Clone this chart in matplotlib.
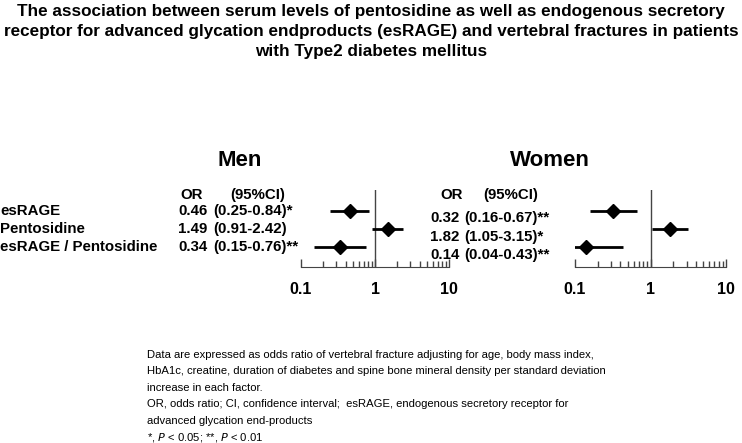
import matplotlib
matplotlib.use("Agg")
import matplotlib.pyplot as plt
from matplotlib.ticker import LogLocator, NullFormatter

W, H = 742, 443
plt.rcParams["font.family"] = ["Liberation Sans", "DejaVu Sans"]

TITLE = ("The association between serum levels of pentosidine as well as endogenous secretory\n"
         "receptor for advanced glycation endproducts (esRAGE) and vertebral fractures in patients\n"
         "with Type2 diabetes mellitus")
FACTORS = ["esRAGE", "Pentosidine", "esRAGE / Pentosidine"]

MEN_OR = [0.46, 1.49, 0.34]
MEN_LO = [0.25, 0.91, 0.15]
MEN_HI = [0.84, 2.42, 0.76]
MEN_SIG = ["*", "", "**"]

WOMEN_OR = [0.32, 1.82, 0.14]
WOMEN_LO = [0.16, 1.05, 0.04]
WOMEN_HI = [0.67, 3.15, 0.43]
WOMEN_SIG = ["**", "*", "**"]

TICKS = [0.1, 1, 10]
TICK_LABELS = ["0.1", "1", "10"]

FOOTNOTE = [
    "Data are expressed as odds ratio of vertebral fracture adjusting for age, body mass index,",
    "HbA1c, creatine, duration of diabetes and spine bone mineral density per standard deviation",
    "increase in each factor.",
    "OR, odds ratio; CI, confidence interval;  esRAGE, endogenous secretory receptor for",
    "advanced glycation end-products",
    r"*, $\it{P}$ < 0.05; **, $\it{P}$ < 0.01",
]


def fx(px):
    return px / W


def fy(py):
    return 1 - py / H


def forest(fig, left, right, ors, los, his):
    ax = fig.add_axes([fx(left), fy(267), fx(right - left), (267 - 190) / H])
    rows = list(range(len(ors)))
    xerr = [[o - l for o, l in zip(ors, los)], [h - o for o, h in zip(ors, his)]]
    ax.errorbar(ors, rows, xerr=xerr, fmt="D", color="black", ms=7, elinewidth=2,
                capsize=0, zorder=3)
    ax.axvline(1, color="#444444", lw=1, zorder=1)
    ax.set_xscale("log")
    ax.set_xlim(0.1, 10)
    ax.set_ylim(3.11, -1.17)
    ax.set_yticks([])
    for s in ("top", "right", "left"):
        ax.spines[s].set_visible(False)
    ax.spines["bottom"].set_color("#444444")
    ax.set_xticks(TICKS)
    ax.set_xticklabels(TICK_LABELS, fontweight="bold", fontsize=11.5)
    ax.xaxis.set_minor_locator(LogLocator(base=10, subs=range(2, 10)))
    ax.xaxis.set_minor_formatter(NullFormatter())
    ax.tick_params(axis="x", which="major", direction="in", length=6, width=1,
                   color="#444444", pad=11)
    ax.tick_params(axis="x", which="minor", direction="in", length=4, width=1,
                   color="#444444")
    ax.patch.set_alpha(0)
    return ax


fig = plt.figure(figsize=(W / 100, H / 100), dpi=100)

fig.text(0.5, fy(4), TITLE, ha="center", va="top", fontsize=12.3, fontweight="bold",
         linespacing=1.4)

bold = dict(fontweight="bold", fontsize=10.8, va="center")

# Men
fig.text(fx(240), fy(160), "Men", ha="center", va="center", fontsize=16, fontweight="bold")
fig.text(fx(192), fy(195), "OR", ha="center", **bold)
fig.text(fx(230), fy(195), "(95%CI)", ha="left", **bold)
men_rows = [211, 229, 247]
for i, name in enumerate(FACTORS):
    y = fy(men_rows[i])
    fig.text(fx(0), y, name, ha="left", **bold)
    fig.text(fx(193), y, f"{MEN_OR[i]:.2f}", ha="center", **bold)
    fig.text(fx(213), y, f"({MEN_LO[i]:.2f}-{MEN_HI[i]:.2f}){MEN_SIG[i]}", ha="left", **bold)
forest(fig, 301, 449, MEN_OR, MEN_LO, MEN_HI)

# Women
fig.text(fx(550), fy(160), "Women", ha="center", va="center", fontsize=16, fontweight="bold")
fig.text(fx(452), fy(195), "OR", ha="center", **bold)
fig.text(fx(483), fy(195), "(95%CI)", ha="left", **bold)
women_rows = [218, 237, 255]
for i in range(len(FACTORS)):
    y = fy(women_rows[i])
    fig.text(fx(445), y, f"{WOMEN_OR[i]:.2f}", ha="center", **bold)
    fig.text(fx(464), y, f"({WOMEN_LO[i]:.2f}-{WOMEN_HI[i]:.2f}){WOMEN_SIG[i]}", ha="left", **bold)
forest(fig, 575, 726, WOMEN_OR, WOMEN_LO, WOMEN_HI)

# footnote
for i, line in enumerate(FOOTNOTE):
    fig.text(fx(147), fy(355 + i * 16.4), line, ha="left", va="center", fontsize=8.1)

fig.savefig("out.png", dpi=100)
